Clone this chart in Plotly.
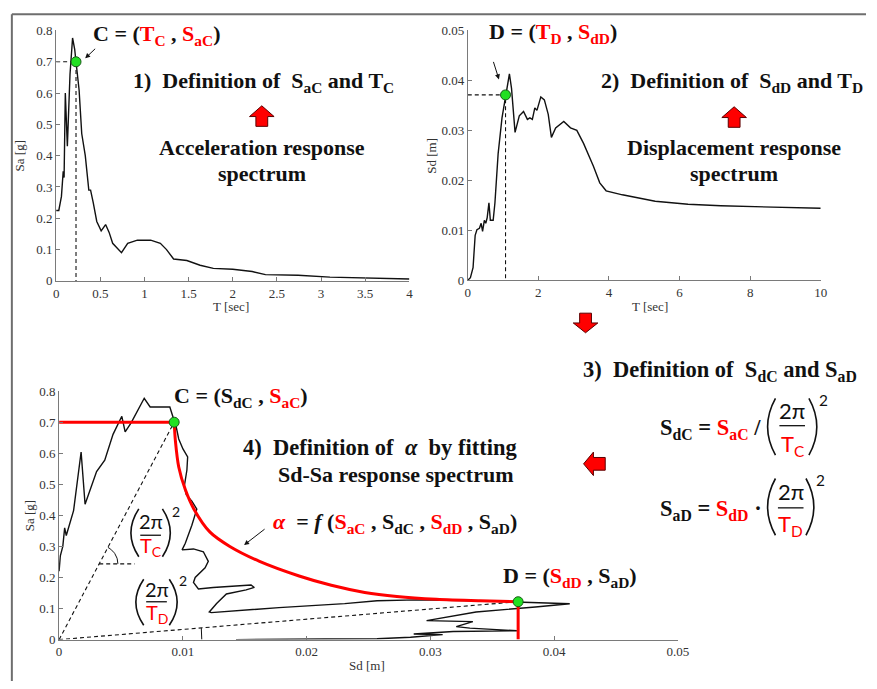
import numpy as np
import plotly.graph_objects as go

W, H = 877, 689

# ---------------- data ----------------
# 1) acceleration response spectrum
t_acc = [0, 0.03, 0.06, 0.08, 0.09, 0.104, 0.127, 0.142, 0.157, 0.186,
         0.21, 0.225, 0.26, 0.29, 0.33, 0.37, 0.39, 0.42, 0.46, 0.51,
         0.56, 0.60, 0.64, 0.74, 0.81, 0.92, 1.07, 1.18, 1.25, 1.33,
         1.48, 1.63, 1.78, 2.0, 2.22, 2.37, 2.74, 3.1, 3.5, 4.0]
sa_acc = [0.225, 0.225, 0.27, 0.35, 0.33, 0.60, 0.43, 0.56, 0.66, 0.776,
          0.74, 0.70, 0.61, 0.47, 0.40, 0.29, 0.29, 0.25, 0.19, 0.16,
          0.18, 0.155, 0.12, 0.09, 0.12, 0.13, 0.13, 0.12, 0.10, 0.07,
          0.065, 0.05, 0.04, 0.037, 0.03, 0.02, 0.018, 0.012, 0.009, 0.006]

# 2) displacement response spectrum
t_disp = [0, 0.075, 0.15, 0.21, 0.26, 0.33, 0.38, 0.42, 0.47, 0.51,
          0.55, 0.60, 0.64, 0.72, 0.77, 0.86, 0.97, 1.07, 1.18, 1.24,
          1.34, 1.46, 1.58, 1.69, 1.76, 1.83, 1.90, 1.96, 2.07, 2.17,
          2.28, 2.37, 2.49, 2.72, 2.91, 3.09, 3.28, 3.56, 3.74, 3.92,
          4.38, 5.31, 6.24, 7.17, 8.1, 9.0, 10]
sd_disp = [0, 0.0005, 0.0025, 0.009, 0.0101, 0.0104, 0.0114, 0.0098, 0.012, 0.0114,
           0.0125, 0.0155, 0.012, 0.012, 0.0155, 0.0253, 0.0325, 0.0371, 0.0413, 0.0384,
           0.0296, 0.0329, 0.0338, 0.0322, 0.0325, 0.0322, 0.0345, 0.0340, 0.0367, 0.0361,
           0.0332, 0.0286, 0.0305, 0.0318, 0.0305, 0.030, 0.0274, 0.0228, 0.0195, 0.0179,
           0.0171, 0.0158, 0.0152, 0.0149, 0.0147, 0.0145, 0.0144]

# 4) Sd-Sa response spectrum
sd_sdsa = [0, 0.0001, 0.0003, 0.00045, 0.00058, 0.00077, 0.00117, 0.00178, 0.0021, 0.00303,
           0.00369, 0.00436, 0.00507, 0.00534, 0.00582, 0.00688, 0.00736, 0.00895, 0.00922, 0.0093,
           0.00948, 0.00967, 0.01001, 0.01039, 0.01033, 0.01012, 0.01028, 0.01073, 0.01113, 0.01073,
           0.0102, 0.00994, 0.01086, 0.01166, 0.01193, 0.01206, 0.0118, 0.0110, 0.01086, 0.01126,
           0.01245, 0.01405, 0.01551, 0.01578, 0.01512, 0.01352, 0.01273, 0.01214, 0.0123, 0.01777,
           0.02308, 0.0257, 0.0289, 0.0348, 0.0372, 0.04127, 0.03849, 0.0337, 0.0297, 0.03344,
           0.0321, 0.0332, 0.0370, 0.03185, 0.02866, 0.0310, 0.0284, 0.0257, 0.0215, 0.0143]
sa_sdsa = [0.22, 0.27, 0.30, 0.36, 0.335, 0.36, 0.415, 0.604, 0.436, 0.541,
           0.578, 0.661, 0.719, 0.669, 0.698, 0.777, 0.749, 0.749, 0.714, 0.704,
           0.682, 0.646, 0.614, 0.588, 0.546, 0.494, 0.467, 0.446, 0.42, 0.368,
           0.31, 0.289, 0.292, 0.283, 0.263, 0.252, 0.231, 0.2, 0.184, 0.163,
           0.168, 0.173, 0.176, 0.168, 0.16, 0.147, 0.116, 0.089, 0.087, 0.103,
           0.116, 0.125, 0.128, 0.124, 0.121, 0.1155, 0.105, 0.089, 0.061, 0.058,
           0.042, 0.037, 0.0285, 0.026, 0.018, 0.016, 0.0076, 0.003, 0.002, 0.0]

# fitted curve C -> D
sd_fit = [0.0093, 0.0094, 0.00967, 0.0102, 0.0109, 0.0122, 0.0138, 0.0162,
          0.0194, 0.0220, 0.0247, 0.0273, 0.0305, 0.0340, 0.0371]
sa_fit = [0.70, 0.64, 0.556, 0.483, 0.42, 0.346, 0.300, 0.252,
          0.205, 0.175, 0.152, 0.139, 0.130, 0.125, 0.122]

# characteristic points
T_C, Sa_C = 0.225, 0.70
T_D, Sd_D = 1.07, 0.0371
Sd_C, Sa_D = 0.0093, 0.122

# ticks
acc_xticks = [0, 0.5, 1, 1.5, 2, 2.5, 3, 3.5, 4]
acc_xlabels = ["0", "0.5", "1", "1.5", "2", "2.5", "3", "3.5", "4"]
sa_ticks = [0, 0.1, 0.2, 0.3, 0.4, 0.5, 0.6, 0.7, 0.8]
sa_labels = ["0", "0.1", "0.2", "0.3", "0.4", "0.5", "0.6", "0.7", "0.8"]
disp_xticks = [0, 2, 4, 6, 8, 10]
disp_xlabels = ["0", "2", "4", "6", "8", "10"]
sd_ticks = [0, 0.01, 0.02, 0.03, 0.04, 0.05]
sd_labels = ["0", "0.01", "0.02", "0.03", "0.04", "0.05"]

# ---------------- helpers ----------------
def PX(x):
    return x / W


def PY(y):
    return 1 - y / H


RED = "#ff0000"
SERIF = "Liberation Serif, Tinos, Times New Roman, DejaVu Serif, serif"
SANS = "Lato, Open Sans, sans-serif"


def red(s):
    return '<span style="color:%s">%s</span>' % (RED, s)


NB = "\u00a0"

dom1x, dom1y = [PX(54), PX(413)], [PY(280), PY(24)]
dom2x, dom2y = [PX(472.3), PX(831)], [PY(279.3), PY(24)]
dom3x, dom3y = [PX(57), PX(685.7)], [PY(646.7), PY(392.7)]

fig = go.Figure()

blk = dict(color="#111111", width=1.4)
dash = dict(color="#111111", width=1.1, dash="4px,3px")
mk = dict(size=10, color="#22e022", line=dict(color="#1a5a1a", width=1))

# plot 1
fig.add_trace(go.Scatter(x=[0, T_C, T_C], y=[Sa_C, Sa_C, 0], mode="lines", line=dash, xaxis="x", yaxis="y"))
fig.add_trace(go.Scatter(x=t_acc, y=sa_acc, mode="lines", line=blk, xaxis="x", yaxis="y"))
fig.add_trace(go.Scatter(x=[T_C], y=[Sa_C], mode="markers", marker=mk, xaxis="x", yaxis="y", cliponaxis=False))

# plot 2
fig.add_trace(go.Scatter(x=[0, T_D, T_D], y=[Sd_D, Sd_D, 0], mode="lines", line=dash, xaxis="x2", yaxis="y2"))
fig.add_trace(go.Scatter(x=t_disp, y=sd_disp, mode="lines", line=blk, xaxis="x2", yaxis="y2"))
fig.add_trace(go.Scatter(x=[T_D], y=[Sd_D], mode="markers", marker=mk, xaxis="x2", yaxis="y2", cliponaxis=False))

# plot 3 geometry helpers (pixels per data unit)
sx3 = (dom3x[1] - dom3x[0]) * W / 0.05
sy3 = (dom3y[1] - dom3y[0]) * H / 0.8
mark_sa = 0.244
mark_sd = Sd_C * mark_sa / Sa_C
ang_c = np.arctan2(Sa_C * sy3, Sd_C * sx3)
th_c = np.linspace(0, ang_c, 25)
arc_c_x = mark_sd + 19 * np.cos(th_c) / sx3
arc_c_y = mark_sa + 19 * np.sin(th_c) / sy3
ang_d = np.arctan2(Sa_D * sy3, Sd_D * sx3)
th_d = np.linspace(0, ang_d, 15)
arc_d_x = 145 * np.cos(th_d) / sx3
arc_d_y = 145 * np.sin(th_d) / sy3

fig.add_trace(go.Scatter(x=[0, Sd_C], y=[0, Sa_C], mode="lines", line=dash, xaxis="x3", yaxis="y3"))
fig.add_trace(go.Scatter(x=[0, Sd_D], y=[0, Sa_D], mode="lines", line=dash, xaxis="x3", yaxis="y3"))
fig.add_trace(go.Scatter(x=[mark_sd, mark_sd + 36 / sx3], y=[mark_sa, mark_sa], mode="lines", line=dash,
                         xaxis="x3", yaxis="y3"))
fig.add_trace(go.Scatter(x=arc_c_x, y=arc_c_y, mode="lines", line=dict(color="#111", width=1), xaxis="x3", yaxis="y3"))
fig.add_trace(go.Scatter(x=arc_d_x, y=arc_d_y, mode="lines", line=dict(color="#111", width=1), xaxis="x3", yaxis="y3"))
fig.add_trace(go.Scatter(x=sd_sdsa, y=sa_sdsa, mode="lines", line=blk, xaxis="x3", yaxis="y3"))
redl = dict(color=RED, width=3)
fig.add_trace(go.Scatter(x=[0, Sd_C], y=[Sa_C, Sa_C], mode="lines", line=redl, xaxis="x3", yaxis="y3"))
fig.add_trace(go.Scatter(x=sd_fit, y=sa_fit, mode="lines", line=dict(color=RED, width=3, shape="spline", smoothing=0.8),
                         xaxis="x3", yaxis="y3"))
fig.add_trace(go.Scatter(x=[Sd_D, Sd_D], y=[Sa_D, 0], mode="lines", line=redl, xaxis="x3", yaxis="y3"))
fig.add_trace(go.Scatter(x=[Sd_C, Sd_D], y=[Sa_C, Sa_D], mode="markers", marker=mk, xaxis="x3", yaxis="y3",
                         cliponaxis=False))

axc = dict(showline=True, linecolor="#7a7a7a", linewidth=1, ticks="inside", ticklen=4, tickcolor="#7a7a7a",
           showgrid=False, zeroline=False, fixedrange=True,
           tickfont=dict(family=SERIF, size=13, color="#333333"))

fig.update_layout(
    width=W, height=H, margin=dict(l=0, r=0, t=0, b=0),
    paper_bgcolor="white", plot_bgcolor="white", showlegend=False,
    font=dict(family=SERIF),
    xaxis=dict(axc, domain=dom1x, range=[0, 4], tickvals=acc_xticks, ticktext=acc_xlabels, anchor="y"),
    yaxis=dict(axc, domain=dom1y, range=[0, 0.8], tickvals=sa_ticks, ticktext=sa_labels, anchor="x"),
    xaxis2=dict(axc, domain=dom2x, range=[0, 10], tickvals=disp_xticks, ticktext=disp_xlabels, anchor="y2"),
    yaxis2=dict(axc, domain=dom2y, range=[0, 0.05], tickvals=sd_ticks, ticktext=sd_labels, anchor="x2"),
    xaxis3=dict(axc, domain=dom3x, range=[0, 0.05], tickvals=sd_ticks, ticktext=sd_labels, anchor="y3"),
    yaxis3=dict(axc, domain=dom3y, range=[0, 0.8], tickvals=sa_ticks, ticktext=sa_labels, anchor="x3"),
)

ann = []


def text(x, y, s, size=22, family=SERIF, color="#111111", xanchor="left", angle=0, bold=True):
    ann.append(dict(x=PX(x), y=PY(y), xref="paper", yref="paper", text=("<b>%s</b>" % s) if bold else s,
                    showarrow=False, xanchor=xanchor, yanchor="middle", textangle=angle,
                    font=dict(family=family, size=size, color=color)))


# axis titles
text(17, 152, "Sa [g]", 13, xanchor="center", angle=-90, bold=False, color="#333")
text(232, 306, "T [sec]", 13, xanchor="center", bold=False, color="#333")
text(436, 152, "Sd [m]", 13, xanchor="center", angle=-90, bold=False, color="#333")
text(657, 306, "T [sec]", 13, xanchor="center", bold=False, color="#333")
text(27, 520, "Sa [g]", 13, xanchor="center", angle=-90, bold=False, color="#333")
text(370, 673, "Sd [m]", 13, xanchor="center", bold=False, color="#333")

# headings
text(89, 29, "C = (" + red("T<sub>C</sub>") + " , " + red("S<sub>aC</sub>") + ")")
text(130, 77, "1)" + NB * 2 + "Definition of" + NB * 2 + "S<sub>aC</sub> and T<sub>C</sub>")
text(263, 144, "Acceleration response", xanchor="center")
text(263, 170, "spectrum", xanchor="center")
text(492, 27, "D = (" + red("T<sub>D</sub>") + " , " + red("S<sub>dD</sub>") + ")")
text(606, 77, "2)" + NB * 2 + "Definition of" + NB * 2 + "S<sub>dD</sub> and T<sub>D</sub>")
text(743, 144, "Displacement response", xanchor="center")
text(743, 170, "spectrum", xanchor="center")
text(587, 372, "3)" + NB * 2 + "Definition of" + NB * 2 + "S<sub>dC</sub> and S<sub>aD</sub>", 22.5)
text(172, 399, "C = (S<sub>dC</sub> , " + red("S<sub>aC</sub>") + ")")
text(242, 450, "4)" + NB * 2 + "Definition of" + NB * 2 + "<i>α</i>" + NB * 2 + "by fitting", 22.5)
text(277, 478, "Sd-Sa response spectrum", 22)
text(272, 527, red("<i>α</i>") + NB + " = <i>f</i> (" + red("S<sub>aC</sub>") + " , S<sub>dC</sub> , "
     + red("S<sub>dD</sub>") + " , S<sub>aD</sub>)", 22)
text(506, 583, "D = (" + red("S<sub>dD</sub>") + " , S<sub>aD</sub>)")

# formulas of step 3
text(666, 431, "S<sub>dC</sub> = " + red("S<sub>aC</sub>") + " /", 22.5)
text(666, 514, "S<sub>aD</sub> = " + red("S<sub>dD</sub>") + " ·", 22.5)

shapes = []


def paren(x_out, x_in, top, bot):
    mid = (top + bot) / 2
    cx = 2 * x_out - x_in
    shapes.append(dict(type="path", xref="paper", yref="paper",
                       path="M %f,%f Q %f,%f %f,%f" % (PX(x_in), PY(top), PX(cx), PY(mid), PX(x_in), PY(bot)),
                       line=dict(color="#111", width=1.6)))


def fraction(xl, xr, top, bot, lw, num_y, line_y, den_y, den, sup_x, sup_y, size):
    paren(xl, xl + 8, top, bot)
    paren(xr, xr - 8, top, bot)
    xc = (xl + xr) / 2
    text(xc, num_y, "2π", size, family=SANS, xanchor="center", bold=False)
    shapes.append(dict(type="line", xref="paper", yref="paper", x0=PX(xc - lw / 2), x1=PX(xc + lw / 2),
                       y0=PY(line_y), y1=PY(line_y), line=dict(color="#111", width=1.3)))
    text(xc, den_y, red(den), size, family=SANS, xanchor="center", bold=False)
    text(sup_x, sup_y, "2", size * 0.7, family=SANS, xanchor="center", bold=False)


fraction(777, 827, 400, 458, 26, 412, 428, 448, "T<sub>C</sub>", 834, 402, 22)
fraction(777, 824, 482, 540, 26, 495, 512, 530, "T<sub>D</sub>", 831, 484, 22)
fraction(130, 170, 513, 562, 21, 525, 540, 552, "T<sub>C</sub>", 176, 516, 20)
fraction(135, 177, 585, 632, 21, 595, 608, 620, "T<sub>D</sub>", 183, 586, 20)


# thin pointer arrows
def pointer(hx, hy, tx, ty):
    ann.append(dict(x=PX(hx), y=PY(hy), xref="paper", yref="paper", ax=tx - hx, ay=ty - hy,
                    axref="pixel", ayref="pixel", text="", showarrow=True, arrowhead=2, arrowsize=1,
                    arrowwidth=1, arrowcolor="#111"))


pointer(83.5, 52.5, 95, 41.5)
pointer(504, 74, 498, 55)
pointer(245, 550, 267, 533)


# block arrows
def block_arrow(tx, ty, dx, dy, L, hl, hw, sw):
    nx, ny = -dy, dx
    hbx, hby = tx - dx * hl, ty - dy * hl
    sex, sey = tx - dx * L, ty - dy * L
    pts = [(tx, ty), (hbx + nx * hw / 2, hby + ny * hw / 2), (hbx + nx * sw / 2, hby + ny * sw / 2),
           (sex + nx * sw / 2, sey + ny * sw / 2), (sex - nx * sw / 2, sey - ny * sw / 2),
           (hbx - nx * sw / 2, hby - ny * sw / 2), (hbx - nx * hw / 2, hby - ny * hw / 2)]
    path = "M " + " L ".join("%f,%f" % (PX(a), PY(b)) for a, b in pts) + " Z"
    shapes.append(dict(type="path", xref="paper", yref="paper", path=path, fillcolor=RED,
                       line=dict(color="#5a0000", width=1)))


block_arrow(263, 101, 0, -1, 21, 11, 25, 12)
block_arrow(743, 102, 0, -1, 21, 11, 25, 12)
block_arrow(592, 333, 0, 1, 20, 10, 25, 12)
block_arrow(590, 467, -1, 0, 22, 10, 24, 13)

# frame lines
shapes.append(dict(type="line", xref="paper", yref="paper", x0=PX(9), x1=1, y0=PY(7.5), y1=PY(7.5),
                   line=dict(color="#6e6e6e", width=2)))
shapes.append(dict(type="line", xref="paper", yref="paper", x0=PX(9), x1=PX(9), y0=PY(7.5), y1=0,
                   line=dict(color="#6e6e6e", width=2)))

fig.update_layout(annotations=ann, shapes=shapes)
fig.write_html("out.html")
